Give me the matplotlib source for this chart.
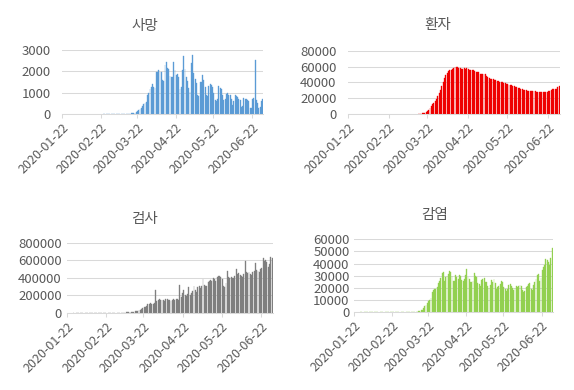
import numpy as np
import pandas as pd
import matplotlib
matplotlib.use("Agg")
import matplotlib.pyplot as plt

plt.rcParams['font.family'] = ['Noto Sans CJK KR', 'DejaVu Sans']

# daily US figures, 2020-01-22 .. 2020-06-30
first_day = "2020-01-22"
n_days = 161
tick_dates = ["2020-01-22", "2020-02-22", "2020-03-22", "2020-04-22", "2020-05-22", "2020-06-22"]

# 사망 (deaths), first reported day
death_start = "2020-02-24"
deaths = [0, 0, 0, 0, 1,
          1, 3, 2, 3, 1, 3, 3, 2, 4, 5, 7, 7, 10, 11, 12, 18, 23, 30, 45, 55, 70, 110, 120, 180, 240, 270,
          380, 480, 500, 540, 880,
          1000, 1150, 1280, 1420, 1250, 1200, 1950, 1980, 2050, 1980, 1950, 1600, 1550, 2280, 2460,
          2150, 2100, 1800, 1720, 1750, 2420, 2050, 1820, 1870, 1750, 1150, 1250, 2080, 2720, 2100,
          1750, 1550, 1200, 1050, 2400, 2770, 1900, 1650, 1450, 900, 850, 1500, 1500, 1850, 1600,
          1250, 880, 850, 1300, 1400, 1380, 1270, 1000, 650, 600, 700, 1300, 1220, 1150, 900, 650,
          700, 960, 980, 900, 880, 680, 400, 620, 870, 860, 820, 720, 640, 350, 380,
          750, 720, 700, 660, 600, 280, 300, 700, 750, 2520, 650, 500, 280, 350, 600,
          700]

# 환자 (currently hospitalized)
hosp_start = "2020-03-15"
hospitalized = [200, 300, 500, 800, 1500, 1500, 2500, 3300, 4500, 7500, 10500, 12500, 14000, 16500, 19000, 23000,
                26500, 30000, 35000, 41000, 45000, 49000, 52000, 54000, 55000, 56000,
                57000, 58000, 59000, 59800, 59300, 58300, 57600, 56500, 57000, 58500,
                57000, 57800, 57000, 56000, 55000, 55000, 55500, 54500, 53500, 53000,
                52500, 51000, 50500, 50000, 50200, 50000, 47500, 46500, 45500, 44500,
                44000, 43800, 43500, 43000, 42300, 41500, 41000, 40800, 40300, 39500,
                38800, 38000, 37500, 36800, 36300, 36500, 35800, 35000, 34300, 33500, 32800,
                32300, 31800, 31300, 30800, 30300, 29800, 29500, 29200, 29000, 29000,
                29500, 29000, 28500, 28000, 27800, 28000, 27800, 27500, 27300, 27200,
                27300, 27800, 28500, 29500, 30500, 31000, 31500, 31800, 32000, 33500,
                35500]

# 검사 (test results)
test_start = "2020-01-27"
tests = [5, 10, 10, 15,
         20, 20, 30, 30, 40, 40, 50, 50, 60, 60, 70, 80, 80, 90, 100, 100, 120, 130, 140, 150,
         160, 180, 200, 220, 250, 300, 350, 400, 500,
         600, 700, 800, 1000, 1200, 1500, 1800, 2200, 2600, 3000, 4000, 5000, 7000, 9000, 11000,
         14000, 18000, 22000, 28000, 35000, 45000, 55000, 65000, 70000, 80000, 95000, 100000,
         110000, 100000, 105000, 115000,
         260000, 130000, 145000, 155000, 150000, 140000, 150000, 135000, 155000, 160000,
         150000, 140000, 135000, 145000, 155000, 150000, 160000, 155000, 140000, 320000,
         180000, 230000, 260000, 205000, 195000, 210000, 290000, 200000, 220000, 250000,
         300000, 260000, 240000, 290000, 300000, 280000, 310000, 390000, 320000, 300000,
         310000, 350000, 365000, 370000, 365000, 400000, 380000, 360000, 410000, 415000,
         420000, 410000, 390000, 300000, 290000, 340000, 480000, 410000, 400000, 405000, 395000,
         400000, 420000, 500000, 440000, 450000, 430000, 420000, 410000, 440000, 590000,
         460000, 450000, 470000, 440000, 430000, 460000, 480000, 570000, 490000, 480000,
         470000, 500000, 510000, 630000, 590000, 600000, 580000, 520000, 560000, 640000,
         620000]

# 감염 (new positives)
pos_start = "2020-01-27"
positives = [0, 1, 0, 1,
             1, 0, 2, 0, 1, 0, 0, 1, 0, 1, 0, 0, 1, 0, 0, 0, 0, 0, 0, 0, 1, 0, 0, 0, 2, 1, 3, 5, 10,
             15, 20, 25, 40, 70, 90, 120, 140, 160, 220, 300, 350, 500, 600, 700,
             900, 1500, 2200, 3500, 4800, 6000, 7500, 9000, 10500, 11500, 16500, 18000, 19500, 19000, 20500, 24000,
             26000, 28500, 32000, 33500, 25500, 29000, 30000, 31500, 34000, 33000,
             29500, 25500, 26000, 30500, 29000, 27500, 31000, 30000, 26500, 26000,
             27500, 31000, 36000, 29000, 27000, 25000, 25000, 26000, 32000, 30000,
             29000, 24000, 23500, 22000, 26500, 27000, 28500, 25000, 24500, 21500,
             20000, 22500, 26500, 25000, 27000, 24000, 19500, 20500, 22000, 23500,
             26000, 24500, 20500, 19500, 17500, 19000, 22500, 23000, 21500, 20000, 18500,
             20000, 21500, 20500, 21500, 22500, 22000, 18000, 17000, 17500, 20500,
             22000, 23500, 24000, 19000, 18500, 22500, 24500, 27500, 30500, 31500,
             26000, 28000, 35000, 37500, 39000, 44000, 43000, 41000, 39000, 45000,
             52500]

text_color = '#595959'
grid_color = '#d9d9d9'

fig = plt.figure(figsize=(5.74, 3.9), dpi=100)
W, H = 574.0, 390.0


def day_index(date):
    return (pd.Timestamp(date) - pd.Timestamp(first_day)).days


def panel(box, start, values, color, ymax, ystep, ypad, title, title_xy):
    # box = (left, top, right, bottom) in pixels
    l, t, r, b = box
    ax = fig.add_axes([l / W, 1 - b / H, (r - l) / W, (b - t) / H])
    x = np.arange(len(values)) + day_index(start)
    ax.bar(x, values, width=0.72, color=color, edgecolor=color, linewidth=0.25, zorder=2)
    ax.set_xlim(-0.5, n_days - 0.5)
    ax.set_ylim(0, ymax)

    yt = np.arange(0, ymax + 1, ystep)
    ax.set_yticks(yt)
    ax.set_yticklabels([str(int(v)) for v in yt])
    ax.set_xticks([day_index(d) - 0.5 for d in tick_dates])
    ax.set_xticklabels(tick_dates, rotation=45, ha='right', rotation_mode='anchor')

    ax.tick_params(axis='y', length=0, pad=ypad, labelsize=9.5, labelcolor=text_color)
    ax.tick_params(axis='x', length=3, width=0.75, color=grid_color, pad=2,
                   labelsize=9, labelcolor=text_color)
    for s in ['top', 'right', 'left']:
        ax.spines[s].set_visible(False)
    ax.spines['bottom'].set_color(grid_color)
    ax.spines['bottom'].set_linewidth(0.75)
    ax.yaxis.grid(True, color=grid_color, linewidth=0.75, zorder=0)
    ax.set_axisbelow(True)

    fig.text(title_xy[0] / W, 1 - title_xy[1] / H, title, ha='center', va='center',
             fontsize=10.5, color=text_color)
    return ax


panel((61.7, 50.0, 263.3, 114.0), death_start, deaths, '#5b9bd5', 3000, 1000, 8, '사망', (145, 26))
panel((347.7, 50.7, 559.7, 114.0), hosp_start, hospitalized, '#ee0000', 80000, 20000, 8, '환자', (438, 25))
panel((66.7, 242.7, 272.7, 312.7), test_start, tests, '#7f7f7f', 800000, 200000, 3.5, '검사', (144, 219))
panel((353.7, 239.3, 552.7, 312.3), pos_start, positives, '#92d050', 60000, 10000, 3, '감염', (435, 215))

fig.savefig('out.png', dpi=100)
